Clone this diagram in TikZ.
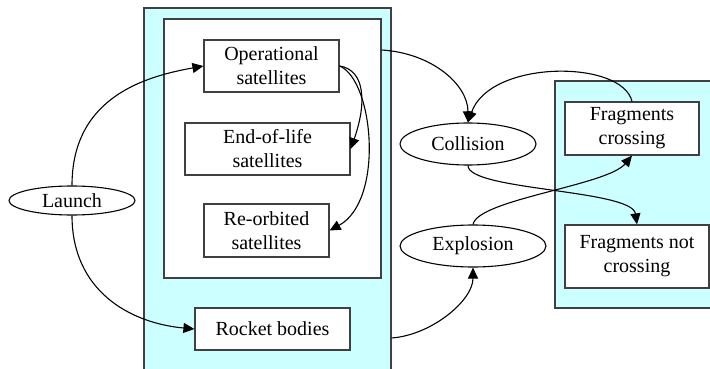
\documentclass[tikz,border=0pt]{standalone}
\usepackage{fontspec}
\setmainfont{Liberation Serif}
\usetikzlibrary{arrows.meta, positioning, shapes.geometric}
\definecolor{clcyan}{HTML}{CCFFFF}
\definecolor{clgray}{HTML}{404040}

\begin{document}
\begin{tikzpicture}[x=1pt, y=-1pt,
  cluster/.style={draw=clgray, line width=1.3pt, inner sep=0pt},
  objbox/.style={draw=clgray, line width=1.2pt, fill=white, align=center, inner sep=0pt, font=\fontsize{20}{24}\selectfont},
  event/.style={ellipse, draw=black, line width=1.1pt, fill=white, inner sep=0pt, font=\fontsize{20}{24}\selectfont},
  flow/.style={line width=1.1pt, -{Triangle[length=11pt, width=10pt]}}]
\useasboundingbox (0,0) rectangle (710,369);
\clip (0,0) rectangle (710,369);

% clusters
\node[cluster, fill=clcyan, minimum width=247pt, minimum height=364pt] (orbit) at (267.5,190) {};
\node[cluster, fill=white, minimum width=217pt, minimum height=259pt] (satgroup) at (272.5,148.5) {};
\node[cluster, fill=clcyan, minimum width=158pt, minimum height=227pt] (frag) at (634,194.5) {};

% objects
\node[objbox, minimum width=135pt, minimum height=52pt] (ops) at (271.5,66) {Operational\\satellites};
\node[objbox, minimum width=165pt, minimum height=52pt] (eol) at (267.5,149) {End-of-life\\satellites};
\node[objbox, minimum width=125pt, minimum height=53pt] (reorb) at (266.5,230.5) {Re-orbited\\satellites};
\node[objbox, minimum width=155pt, minimum height=42pt] (rocket) at (272.5,329) {Rocket bodies};
\node[objbox, minimum width=134pt, minimum height=53pt] (fragc) at (632,128.5) {Fragments\\crossing};
\node[objbox, minimum width=144pt, minimum height=63pt] (fragnc) at (637,256.5) {Fragments not\\crossing};

% events
\node[event, minimum width=126pt, minimum height=29pt] (launch) at (72,200.5) {Launch};
\node[event, minimum width=136pt, minimum height=42pt] (collision) at (468,144) {Collision};
\node[event, minimum width=146pt, minimum height=42pt] (explosion) at (473,246) {Explosion};

\coordinate (satexit) at (satgroup.east |- 0,50);
\coordinate (orbitexit) at (orbit.east |- 0,338);

% launch
\draw[flow] (launch.north) .. controls +(0,-90) and +(-55,10) .. (ops.west);
\draw[flow] (launch.south) .. controls +(0,75) and +(-65,-6) .. (rocket.west);

% ageing of satellites
\draw[flow] (ops.east) .. controls +(26,4) and +(16,-45) .. (eol.east);
\draw[flow] (ops.east) .. controls +(34,14) and +(55,-30) .. (reorb.east);

% collisions
\draw[flow] (satexit) .. controls +(50,3) and +(0,-38) .. (collision.north);
\draw[flow] (fragc.north) .. controls +(-10,-42) and +(22,-63) .. (collision.north);
\draw[flow] (collision.south) .. controls +(0,25) and +(-5,-35) .. (fragnc.north);

% explosions
\draw[flow] (orbitexit) .. controls +(40,-3) and +(0,33) .. (explosion.south);
\draw[flow] (explosion.north) .. controls +(5,-25) and +(-25,30) .. (fragc.south);
\end{tikzpicture}
\end{document}
